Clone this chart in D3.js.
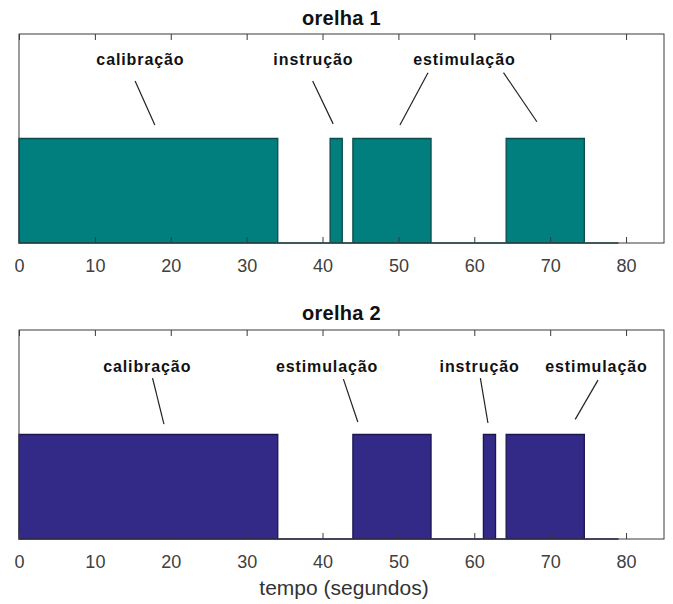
<!DOCTYPE html>
<html>
<head>
<meta charset="utf-8">
<script src="https://cdn.jsdelivr.net/npm/d3@7"></script>
<style>
    body { margin: 0; background: #fff; }
    text { font-family: "Liberation Sans", Arial, sans-serif; }
</style>
</head>
<body>
<div id="main"></div>
<script>
// x ticks (seconds)
var xTicks = [0, 10, 20, 30, 40, 50, 60, 70, 80];
var xMax = 85;
var tEnd = 79;

// blocks where the stimulus is "on" (value 1)
var ear1Start = [0, 41.0, 44.0, 64.2];
var ear1End = [34.1, 42.6, 54.3, 74.5];
var ear2Start = [0, 44.0, 61.2, 64.2];
var ear2End = [34.1, 54.3, 62.8, 74.5];

var titles = ["orelha 1", "orelha 2"];

// annotation labels: text, x (s), y (level)
var ear1Labels = ["calibração", "instrução", "estimulação"];
var ear1LabelX = [16.0, 38.8, 58.7];
var ear1LabelY = 1.70;
// pointer lines: [x0, y0, x1, y1]
var ear1Pointers = [
    [15.3, 1.55, 17.9, 1.13],
    [38.7, 1.55, 41.4, 1.14],
    [53.9, 1.63, 50.2, 1.13],
    [63.85, 1.63, 68.25, 1.16],
];

var ear2Labels = ["calibração", "estimulação", "instrução", "estimulação"];
var ear2LabelX = [16.9, 40.6, 60.7, 76.1];
var ear2LabelY = 1.60;
var ear2Pointers = [
    [17.6, 1.54, 19.1, 1.10],
    [42.75, 1.53, 44.65, 1.12],
    [60.8, 1.54, 61.8, 1.11],
    [76.3, 1.52, 73.3, 1.145],
];

var ctx = {
    w: 673,
    h: 604,
    left: 19,
    right: 664,
    plotH: 209,
    tops: [34, 330],
    fills: ["#007f7e", "#322a86"],
    edges: ["#0b4b4b", "#1b1650"],
};

function stepPoints(starts, ends) {
    var pts = [];
    for (var i = 0; i < starts.length; i++) {
        if (i > 0) pts.push([starts[i], 0]);
        pts.push([starts[i], 1]);
        pts.push([ends[i], 1]);
        pts.push([ends[i], 0]);
    }
    pts.push([tEnd, 0]);
    return pts;
}

function drawPanel(svg, k, starts, ends, labels, labelX, labelY, pointers) {
    var top = ctx.tops[k];
    var x = d3.scaleLinear().domain([0, xMax]).range([ctx.left, ctx.right]);
    var y = d3.scaleLinear().domain([0, 2]).range([top + ctx.plotH, top]);
    var g = svg.append("g");

    var area = d3.area()
        .x(function (d) { return x(d[0]); })
        .y0(y(0))
        .y1(function (d) { return y(d[1]); });

    g.append("path")
        .datum(stepPoints(starts, ends))
        .attr("d", area)
        .attr("fill", ctx.fills[k])
        .attr("stroke", ctx.edges[k])
        .attr("stroke-width", 1.3);

    // box
    g.append("rect")
        .attr("x", ctx.left)
        .attr("y", top)
        .attr("width", ctx.right - ctx.left)
        .attr("height", ctx.plotH)
        .attr("fill", "none")
        .attr("stroke", "#3a3a3a")
        .attr("stroke-width", 1);

    // inward ticks top and bottom
    g.append("g")
        .attr("transform", "translate(0," + top + ")")
        .call(d3.axisTop(x).tickValues(xTicks).tickSize(-6).tickFormat(""))
        .call(function (a) { a.select(".domain").remove(); })
        .selectAll("line").attr("stroke", "#3a3a3a");
    g.append("g")
        .attr("transform", "translate(0," + (top + ctx.plotH) + ")")
        .call(d3.axisBottom(x).tickValues(xTicks).tickSize(-6).tickFormat(""))
        .call(function (a) { a.select(".domain").remove(); })
        .selectAll("line").attr("stroke", "#3a3a3a");

    // tick labels
    var lab = g.append("g")
        .attr("transform", "translate(0," + (top + ctx.plotH) + ")")
        .call(d3.axisBottom(x).tickValues(xTicks).tickSize(0).tickPadding(16));
    lab.select(".domain").remove();
    lab.selectAll("text")
        .attr("font-family", "Liberation Sans, Arial, sans-serif")
        .attr("font-size", 18)
        .attr("fill", "#404040");

    // title
    g.append("text")
        .attr("x", (ctx.left + ctx.right) / 2)
        .attr("y", top - (k === 0 ? 9 : 10))
        .attr("text-anchor", "middle")
        .attr("font-size", 20)
        .attr("font-weight", "bold")
        .attr("letter-spacing", 0.3)
        .attr("fill", "#111")
        .text(titles[k]);

    // annotations
    g.selectAll("text.note")
        .data(labels)
        .enter()
        .append("text")
        .attr("class", "note")
        .attr("x", function (d, i) { return x(labelX[i]); })
        .attr("y", y(labelY))
        .attr("text-anchor", "middle")
        .attr("font-size", 16)
        .attr("font-weight", "bold")
        .attr("letter-spacing", 0.9)
        .attr("fill", "#111")
        .text(function (d) { return d; });

    g.selectAll("line.ptr")
        .data(pointers)
        .enter()
        .append("line")
        .attr("class", "ptr")
        .attr("x1", function (d) { return x(d[0]); })
        .attr("y1", function (d) { return y(d[1]); })
        .attr("x2", function (d) { return x(d[2]); })
        .attr("y2", function (d) { return y(d[3]); })
        .attr("stroke", "#222")
        .attr("stroke-width", 1.2);
}

var createViz = function () {
    var svg = d3.select("#main").append("svg")
        .attr("width", ctx.w)
        .attr("height", ctx.h);
    svg.append("rect").attr("width", ctx.w).attr("height", ctx.h).attr("fill", "#fff");

    drawPanel(svg, 0, ear1Start, ear1End, ear1Labels, ear1LabelX, ear1LabelY, ear1Pointers);
    drawPanel(svg, 1, ear2Start, ear2End, ear2Labels, ear2LabelX, ear2LabelY, ear2Pointers);

    svg.append("text")
        .attr("x", 344)
        .attr("y", 595)
        .attr("text-anchor", "middle")
        .attr("font-size", 21)
        .attr("fill", "#333")
        .text("tempo (segundos)");
};

createViz();
</script>
</body>
</html>
